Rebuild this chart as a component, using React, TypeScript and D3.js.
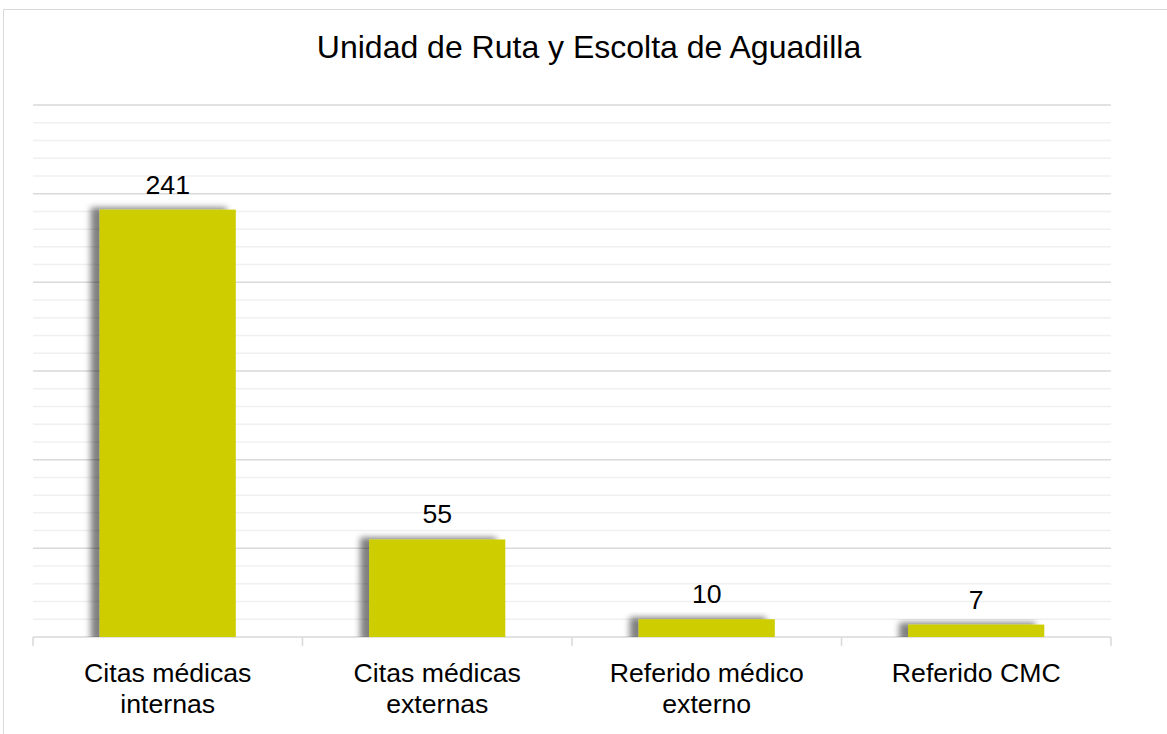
import React from "react";
import * as d3 from "d3";

const categories: string[][] = [
  ["Citas médicas", "internas"],
  ["Citas médicas", "externas"],
  ["Referido médico", "externo"],
  ["Referido CMC"],
];
const values: number[] = [241, 55, 10, 7];
const title = "Unidad de Ruta y Escolta de Aguadilla";
const yMax = 300;
const majorStep = 50;
const minorStep = 10;

const W = 1167;
const H = 734;
const plot = { left: 33, right: 1111, top: 105, bottom: 637 };

export default function App() {
  const keys = categories.map((c) => c.join(" "));
  const x = d3
    .scaleBand<string>()
    .domain(keys)
    .range([plot.left, plot.right])
    .paddingInner(0.495)
    .paddingOuter(0.2475);
  const y = d3.scaleLinear().domain([0, yMax]).range([plot.bottom, plot.top]);
  const minorTicks = d3.range(0, yMax + 0.001, minorStep).filter((v) => v % majorStep !== 0);
  const majorTicks = d3.range(0, yMax + 0.001, majorStep);
  const step = (plot.right - plot.left) / keys.length;
  const boundaries = d3.range(0, keys.length + 1).map((i) => plot.left + i * step);
  const font = "'Liberation Sans', Arial, sans-serif";

  return (
    <svg
      width={W}
      height={H}
      style={{ position: "absolute", left: 0, top: 0, display: "block", background: "#fff" }}
    >
      <defs>
        <filter id="shadow" x="-30%" y="-30%" width="160%" height="160%">
          <feGaussianBlur in="SourceAlpha" stdDeviation="3" result="b" />
          <feOffset in="b" dx="-9" dy="-2" result="o" />
          <feComponentTransfer in="o" result="s">
            <feFuncA type="linear" slope="0.5" />
          </feComponentTransfer>
          <feMerge>
            <feMergeNode in="s" />
            <feMergeNode in="SourceGraphic" />
          </feMerge>
        </filter>
        <clipPath id="clipBase">
          <rect x={0} y={0} width={W} height={plot.bottom} />
        </clipPath>
      </defs>
      <rect x={3.5} y={9.5} width={1300} height={900} fill="#fff" stroke="#d9d9d9" strokeWidth={1} />
      <text x={589} y={58} textAnchor="middle" fontFamily={font} fontSize={32} fill="#000">
        {title}
      </text>
      {minorTicks.map((t) => (
        <line key={"m" + t} x1={plot.left} x2={plot.right} y1={y(t)} y2={y(t)} stroke="#f0f0f0" strokeWidth={1.5} />
      ))}
      {majorTicks.map((t) => (
        <line key={"M" + t} x1={plot.left} x2={plot.right} y1={y(t)} y2={y(t)} stroke="#d9d9d9" strokeWidth={1.5} />
      ))}
      {boundaries.map((bx, i) => (
        <line key={"t" + i} x1={bx} x2={bx} y1={plot.bottom} y2={plot.bottom + 9} stroke="#d9d9d9" strokeWidth={1.5} />
      ))}
      <g clipPath="url(#clipBase)">
        {values.map((v, i) => (
          <rect
            key={"b" + i}
            x={x(keys[i])!}
            y={y(v)}
            width={x.bandwidth()}
            height={y(0) - y(v) + 6}
            fill="#cdcd00"
            filter="url(#shadow)"
          />
        ))}
      </g>
      {values.map((v, i) => (
        <text
          key={"l" + i}
          x={x(keys[i])! + x.bandwidth() / 2}
          y={y(v) - 16}
          textAnchor="middle"
          fontFamily={font}
          fontSize={26.67}
          fill="#000"
        >
          {v}
        </text>
      ))}
      {categories.map((lines, i) => (
        <text
          key={"c" + i}
          x={x(keys[i])! + x.bandwidth() / 2}
          y={682}
          textAnchor="middle"
          fontFamily={font}
          fontSize={26.67}
          fill="#000"
        >
          {lines.map((ln, j) => (
            <tspan key={j} x={x(keys[i])! + x.bandwidth() / 2} dy={j === 0 ? 0 : 31}>
              {ln}
            </tspan>
          ))}
        </text>
      ))}
    </svg>
  );
}
